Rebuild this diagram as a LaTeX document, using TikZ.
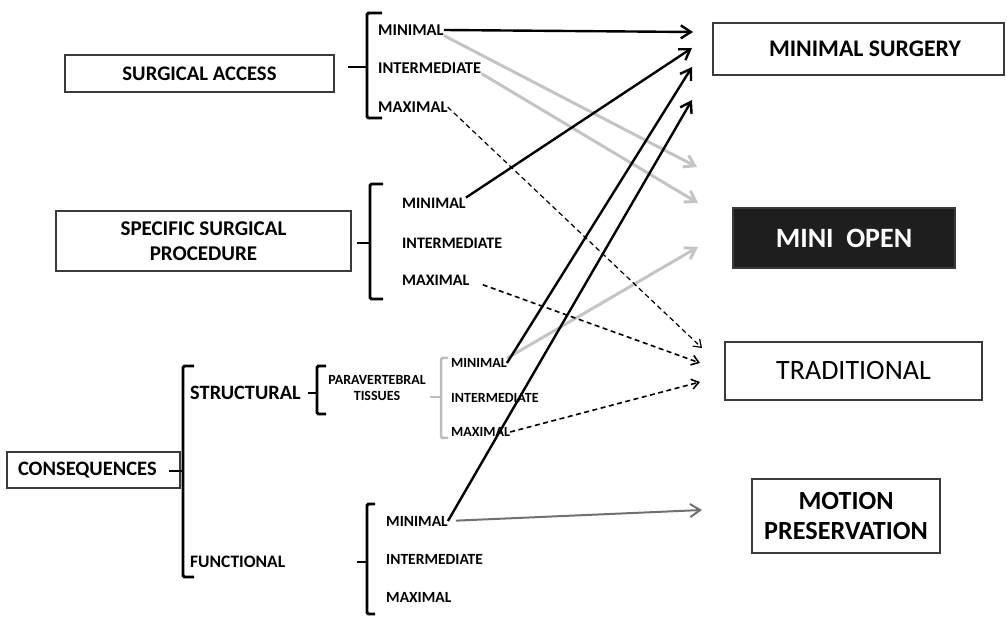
\documentclass[tikz,border=0pt]{standalone}
\usepackage{fontspec}
\setmainfont{Carlito}
\usetikzlibrary{arrows.meta}
\definecolor{lightarrow}{HTML}{C4C4C4}
\definecolor{midarrow}{HTML}{707070}
\definecolor{boxline}{HTML}{3A3A3A}
\definecolor{darkfill}{HTML}{1E1E1E}
\definecolor{graybrace}{HTML}{BDBDBD}
\newcommand{\fsz}[1]{\fontsize{#1}{1.2\dimexpr#1pt\relax}\selectfont}
\begin{document}
\begin{tikzpicture}[x=1pt,y=-1pt,
  box/.style={draw=boxline, line width=1.3pt, inner sep=0pt, align=center},
  lbl/.style={inner sep=0pt, anchor=west},
  brace/.style={line width=2.9pt, rounded corners=1.5pt},
  solidarrow/.style={line width=2.4pt, -{Straight Barb[length=10pt,width=13pt]}},
  grayarrow/.style={line width=3pt, draw=lightarrow, -{Straight Barb[length=10pt,width=13pt]}},
  midarrow/.style={line width=2pt, draw=midarrow, -{Straight Barb[length=10pt,width=13pt]}},
  dasharrow/.style={line width=1.2pt, dash pattern=on 5pt off 3.5pt, -{Straight Barb[length=7pt,width=10pt]}},
]
\useasboundingbox (0,0) rectangle (1007,617);

% left-hand boxes
\node[box, minimum width=269pt, minimum height=37pt, font=\bfseries\fsz{20.7}] (access) at (199.5,73.5) {SURGICAL ACCESS};
\node[box, minimum width=295pt, minimum height=60pt, font=\bfseries\fsz{21}] (proc) at (203.5,241) {SPECIFIC SURGICAL\\[0pt]PROCEDURE};
\node[box, minimum width=173pt, minimum height=36pt, text width=151pt, align=left, font=\bfseries\fsz{20.5}] (cons) at (93.5,470) {CONSEQUENCES};

% right-hand boxes
\node[box, minimum width=291pt, minimum height=52pt, font=\bfseries\fsz{23.8}] (msurg) at (858.5,49) {\hspace*{13pt}MINIMAL SURGERY};
\node[box, fill=darkfill, text=white, minimum width=222pt, minimum height=60pt, font=\bfseries\fsz{28}] (mopen) at (844,238) {MINI\hspace{0.45em}OPEN};
\node[box, minimum width=257pt, minimum height=58pt, font=\fsz{28}] (trad) at (853.5,371) {TRADITIONAL};
\node[box, minimum width=188pt, minimum height=74pt, font=\bfseries\fsz{26.2}] (motion) at (846,516) {MOTION\\[-1pt]PRESERVATION};

% level labels: surgical access
\begin{scope}[every node/.style={lbl, font=\bfseries\fsz{16.5}}]
  \node (am) at (378,30) {MINIMAL};
  \node (ai) at (378,68) {INTERMEDIATE};
  \node (ax) at (378,107) {MAXIMAL};
\end{scope}
% level labels: surgical procedure
\begin{scope}[every node/.style={lbl, font=\bfseries\fsz{16}}]
  \node (bm) at (402,203) {MINIMAL};
  \node (bi) at (402,243) {INTERMEDIATE};
  \node (bx) at (402,280) {MAXIMAL};
\end{scope}
% consequences
\node[lbl, font=\bfseries\fsz{20.4}] (struct) at (190,393) {STRUCTURAL};
\node[lbl, font=\bfseries\fsz{17.5}] (func) at (190,562) {FUNCTIONAL};
\node[inner sep=0pt, align=center, font=\bfseries\fsz{14}] (para) at (377,388) {PARAVERTEBRAL\\[-1pt]TISSUES};
\begin{scope}[every node/.style={lbl, font=\bfseries\fsz{14}}]
  \node (gm) at (451,363) {MINIMAL};
  \node (gi) at (451,398) {INTERMEDIATE};
  \node (gx) at (451,432) {MAXIMAL};
\end{scope}
\begin{scope}[every node/.style={lbl, font=\bfseries\fsz{15.5}}]
  \node (fm) at (386,521) {MINIMAL};
  \node (fi) at (386,559) {INTERMEDIATE};
  \node (fx) at (386,597) {MAXIMAL};
\end{scope}

% braces
\draw[brace] (382,13) -- (367,13) -- (367,118) -- (382,118);
\draw[brace] (348,67) -- (367,67);
\draw[brace] (383,184) -- (370,184) -- (370,299) -- (383,299);
\draw[brace] (357,243) -- (370,243);
\draw[brace] (194,366) -- (183,366) -- (183,577) -- (194,577);
\draw[brace] (169,471) -- (183,471);
\draw[brace] (326,366) -- (317,366) -- (317,414) -- (326,414);
\draw[brace] (308,393) -- (317,393);
\draw[brace, draw=graybrace, line width=2.5pt] (448,358) -- (441,358) -- (441,438) -- (448,438);
\draw[brace, draw=graybrace, line width=2.5pt] (430,397) -- (441,397);
\draw[brace] (375,504) -- (367,504) -- (367,614) -- (375,614);
\draw[brace] (357,562) -- (367,562);

% arrow tips
\coordinate (t1) at (693,32);
\coordinate (t2) at (692,48);
\coordinate (t3) at (692,67);
\coordinate (t4) at (692,100);
\coordinate (t5) at (697,167);
\coordinate (t6) at (698,203);
\coordinate (t7) at (698,247);
\coordinate (t8) at (702,348);
\coordinate (t9) at (700,363);
\coordinate (t10) at (700,382);
\coordinate (t11) at (702,510);

% connectors
\draw[grayarrow] (am.south east) -- (t5);
\draw[grayarrow] (ai.south east) -- (t6);
\draw[grayarrow] (gm.north east) -- (t7);
\draw[midarrow, shorten <=8pt] (fm.east) -- (t11);
\draw[dasharrow] (ax.east) -- (t8);
\draw[dasharrow, line width=1.6pt, shorten <=14pt] (bx.east) -- (t9);
\draw[dasharrow, line width=1.6pt] (gx.east) -- (t10);
\draw[solidarrow] (am.east) -- (t1);
\draw[solidarrow] (bm.north east) -- (t2);
\draw[solidarrow] (gm.east) -- (t3);
\draw[solidarrow] (fm.east) -- (t4);
\end{tikzpicture}
\end{document}
